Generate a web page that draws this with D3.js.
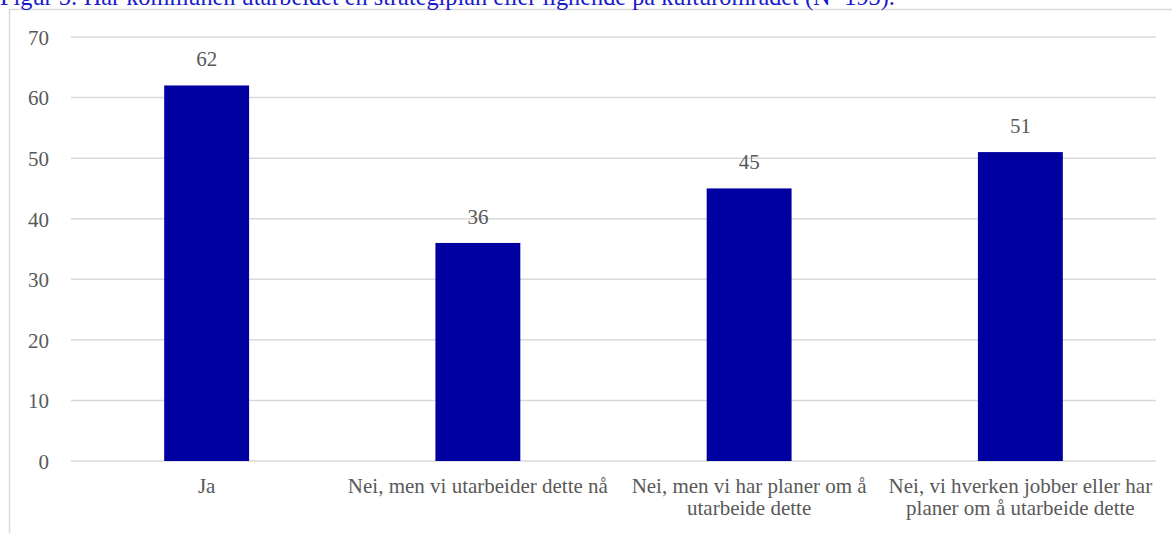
<!DOCTYPE html>
<html><head><meta charset="utf-8">
<script src="https://cdn.jsdelivr.net/npm/d3@7"></script>
<style>body{margin:0;background:#fff;overflow:hidden}svg{display:block}text{font-family:"Liberation Serif","Times New Roman",serif}</style>
</head><body>
<svg id="c" width="1172" height="533"></svg>
<script>
const title = "Figur 5: Har kommunen utarbeidet en strategiplan eller lignende på kulturområdet (N=193).";
const categories = [
  ["Ja"],
  ["Nei, men vi utarbeider dette nå"],
  ["Nei, men vi har planer om å", "utarbeide dette"],
  ["Nei, vi hverken jobber eller har", "planer om å utarbeide dette"]
];
const values = [62, 36, 45, 51];
const yTicks = [0, 10, 20, 30, 40, 50, 60, 70];

const svg = d3.select("#c");
const textColor = "#595959";
const gridColor = "#d9d9d9";

// frame
svg.append("path").attr("d", "M9.5,533 V9.5 H1172").attr("fill","none").attr("stroke",gridColor).attr("stroke-width",1.5);

// title
svg.append("text").attr("x", 0).attr("y", 5).text(title)
  .attr("font-size", 24.3).attr("fill", "#1a1acc");

const x = d3.scaleBand().domain(d3.range(categories.length)).range([71, 1156]).paddingInner(0.687).paddingOuter(0.3435);
const y = d3.scaleLinear().domain([0, 70]).range([461, 37]);

// gridlines
svg.append("g").selectAll("line").data(yTicks).join("line")
  .attr("x1", 71).attr("x2", 1156).attr("y1", d => y(d)).attr("y2", d => y(d))
  .attr("stroke", gridColor).attr("stroke-width", 1.5);

// y axis labels
const yAxis = d3.axisLeft(y).tickValues(yTicks).tickSize(0).tickPadding(0);
const ya = svg.append("g").attr("transform", "translate(49,0)").call(yAxis);
ya.select(".domain").remove();
ya.selectAll("text").attr("font-family", null).attr("font-size", 21).attr("fill", textColor).attr("dy", "0.35em");
ya.attr("font-family", null);

// bars
svg.append("g").selectAll("rect").data(values).join("rect")
  .attr("x", (d, i) => x(i)).attr("width", x.bandwidth())
  .attr("y", d => y(d)).attr("height", d => y(0) - y(d))
  .attr("fill", "#0000a0");

// data labels
svg.append("g").selectAll("text").data(values).join("text")
  .attr("x", (d, i) => x(i) + x.bandwidth() / 2).attr("y", d => y(d) - 19)
  .attr("text-anchor", "middle").attr("font-size", 21).attr("fill", textColor)
  .text(d => d);

// category labels
const cg = svg.append("g").selectAll("text").data(categories).join("text")
  .attr("x", (d, i) => x(i) + x.bandwidth() / 2).attr("y", 493)
  .attr("text-anchor", "middle").attr("font-size", 21).attr("fill", textColor);
cg.selectAll("tspan").data(d => d).join("tspan")
  .attr("x", function(){ return this.parentNode.getAttribute("x"); })
  .attr("dy", (d, i) => i === 0 ? 0 : 22).text(d => d);
</script>
</body></html>
